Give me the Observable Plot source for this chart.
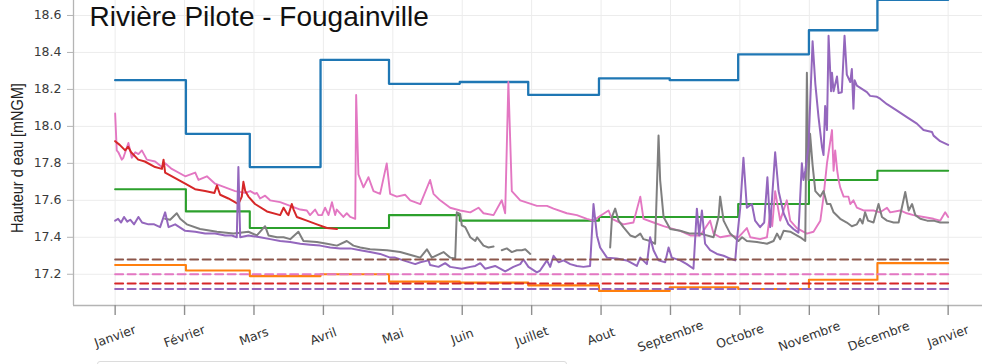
<!DOCTYPE html>
<html lang="fr">
<head>
<meta charset="utf-8">
<script src="https://cdn.jsdelivr.net/npm/d3@7"></script>
<script src="https://cdn.jsdelivr.net/npm/@observablehq/plot@0.6"></script>
<style>
  html, body { margin: 0; padding: 0; background: #fff; overflow: hidden; }
  #chart svg { display: block; }
  .legend-box { margin: 3px 0 0 97px; width: 468px; height: 30px; border: 1px solid #dcdcdc; border-radius: 3px; background: #fff; }
</style>
</head>
<body>
<div id="chart"></div>
<div class="legend-box"></div>
<script>
// Month labels and their positions (day of year, twelve equal intervals)
const monthNames = ["Janvier", "Février", "Mars", "Avril", "Mai", "Juin", "Juillet", "Aout", "Septembre", "Octobre", "Novembre", "Décembre", "Janvier"];
const monthTicks = d3.range(13).map(i => i * 365 / 12);
// First day of each calendar month (day of year), plus the end of the year
const monthStarts = [0, 31, 59, 90, 120, 151, 181, 212, 243, 273, 304, 334, 365];
const yTicks = [17.2, 17.4, 17.6, 17.8, 18.0, 18.2, 18.4, 18.6];

// Monthly step levels [mNGM]
const blueLevels   = [18.25, 17.96, 17.78, 18.36, 18.23, 18.24, 18.17, 18.26, 18.25, 18.39, 18.52, 18.685];
const greenLevels  = [17.66, 17.54, 17.45, 17.45, 17.52, 17.49, 17.49, 17.51, 17.51, 17.58, 17.71, 17.76];
const orangeLevels = [17.25, 17.22, 17.19, 17.20, 17.16, 17.155, 17.14, 17.11, 17.13, 17.12, 17.17, 17.26];

// Constant reference levels (dashed)
const refBrown = 17.28;
const refPink = 17.20;
const refRed = 17.15;
const refPurple = 17.12;

// Observed water levels: [day of year, level]
const redSeries = [[0,17.92],[2,17.90],[4.4,17.87],[5.7,17.89],[7,17.86],[10.1,17.82],[13,17.81],[17.5,17.78],[20.5,17.77],[21.2,17.82],[21.9,17.75],[26.3,17.72],[30.7,17.69],[35,17.66],[39.4,17.65],[43.5,17.64],[44.6,17.68],[46,17.63],[49.6,17.61],[54,17.58],[55.5,17.62],[56.2,17.70],[57,17.65],[58.4,17.62],[61.3,17.58],[66.5,17.54],[72.3,17.52],[73.8,17.56],[75.2,17.53],[75.9,17.52],[77.4,17.58],[78.2,17.55],[79.6,17.51],[84,17.49],[88.4,17.47],[92.8,17.45],[97.2,17.445]];

const pinkSeries = [[0,18.07],[0.7,17.87],[1.4,17.86],[2.9,17.82],[3.6,17.83],[5.8,17.91],[7.3,17.83],[8.8,17.86],[10.2,17.85],[11.7,17.87],[13.9,17.82],[17.5,17.81],[20.5,17.78],[21.9,17.80],[24.8,17.77],[30.7,17.73],[35.1,17.75],[36.5,17.71],[40.2,17.73],[43.8,17.69],[48.2,17.67],[52.6,17.65],[57,17.64],[59.2,17.65],[61.3,17.635],[62.1,17.64],[63.5,17.61],[65.7,17.625],[67.9,17.60],[72.3,17.59],[76.7,17.57],[81.1,17.55],[84,17.545],[85.4,17.52],[87.6,17.55],[89,17.52],[90.6,17.52],[92,17.56],[93.5,17.52],[95,17.59],[96.4,17.52],[97.1,17.55],[100,17.51],[101.5,17.53],[103,17.51],[105.2,17.50],[105.6,18.17],[106.6,17.74],[108.8,17.67],[111,17.725],[113.2,17.65],[116.1,17.635],[119,17.80],[120.5,17.635],[123.4,17.62],[127.1,17.63],[129.3,17.60],[133.7,17.58],[138,17.71],[139.5,17.635],[142.4,17.60],[146.8,17.56],[151.2,17.545],[155.6,17.535],[159.2,17.56],[161.4,17.53],[165.8,17.52],[169.4,17.60],[170.9,17.53],[172.3,18.24],[173.8,17.65],[177.5,17.60],[184.8,17.57],[189.2,17.57],[192.1,17.555],[197.9,17.53],[202.3,17.52],[206.7,17.50],[209.6,17.49],[211.8,17.51],[216.2,17.545],[217.7,17.50],[222.7,17.47],[227.1,17.48],[230.1,17.62],[231.5,17.50],[235.9,17.48],[240.3,17.46],[243.2,17.45],[247.6,17.435],[252,17.41],[256.4,17.41],[260.7,17.49],[262.2,17.42],[265.1,17.40],[269.5,17.41],[273.1,17.40],[276.8,17.45],[278.3,17.40],[282.6,17.39],[285.6,17.40],[287,17.53],[287.9,17.46],[289.2,17.65],[291.4,17.49],[294.3,17.60],[295.8,17.49],[298.7,17.45],[303.1,17.42],[306,17.43],[309,17.49],[310.4,17.62],[311.9,17.80],[314.1,17.98],[314.8,17.76],[315.5,17.87],[316.4,17.76],[317,17.71],[317.7,17.67],[319.2,17.62],[321.3,17.62],[322.1,17.58],[323.5,17.60],[325,17.56],[327.9,17.545],[332.3,17.545],[335.2,17.535],[338.2,17.56],[339.6,17.535],[344,17.545],[346.9,17.53],[349.8,17.52],[354.2,17.51],[358.6,17.50],[361.5,17.49],[363.7,17.535],[365,17.51]];

const purpleSeries = [[0,17.49],[1.3,17.50],[2.6,17.48],[3.9,17.51],[5.3,17.485],[6.6,17.495],[8.3,17.47],[10.2,17.51],[11.8,17.48],[14.6,17.47],[17.1,17.47],[19.7,17.455],[21.9,17.535],[23.4,17.455],[26.3,17.47],[30.7,17.435],[35.1,17.43],[39.4,17.42],[43.8,17.42],[48.2,17.41],[51.1,17.41],[53.3,17.40],[54,17.78],[54.8,17.40],[58.4,17.41],[63.5,17.40],[67.9,17.39],[72.3,17.38],[76.7,17.375],[81.1,17.365],[85.4,17.36],[89.8,17.355],[94.2,17.345],[98.6,17.34],[103,17.34],[107.4,17.33],[111.7,17.32],[116.1,17.31],[120.5,17.29],[122.7,17.29],[126.3,17.275],[131.5,17.255],[133.7,17.265],[137.3,17.275],[138,17.25],[141.7,17.24],[144.6,17.26],[146.8,17.24],[151.9,17.23],[155.6,17.24],[157.8,17.245],[160,17.26],[162.1,17.23],[166.5,17.245],[170.9,17.215],[174.5,17.24],[177.5,17.255],[178.9,17.28],[181.1,17.24],[184.8,17.21],[186.2,17.22],[189.2,17.275],[190.6,17.24],[192.1,17.30],[194.3,17.265],[196.5,17.275],[199.4,17.255],[202.3,17.245],[205.2,17.24],[208.1,17.245],[209.6,17.58],[211.1,17.41],[212.5,17.345],[215.5,17.29],[219.8,17.285],[224.2,17.275],[228.6,17.245],[230.1,17.29],[233,17.255],[234.4,17.40],[235.9,17.33],[238.1,17.275],[241,17.265],[242.5,17.345],[243.9,17.29],[247.6,17.275],[250.5,17.255],[253.4,17.23],[254.9,17.555],[255.9,17.41],[257.1,17.545],[258.5,17.365],[260.7,17.33],[263.7,17.31],[266.6,17.30],[269.5,17.285],[271.7,17.275],[272.4,17.38],[273.9,17.56],[275.3,17.83],[276.8,17.56],[279,17.58],[280.4,17.49],[282.6,17.455],[284.4,17.48],[285.8,17.725],[287,17.455],[289.2,17.86],[290.7,17.65],[292.9,17.53],[295,17.47],[297.2,17.445],[299.4,17.425],[300.9,17.80],[301.6,17.71],[302.4,17.76],[303.8,17.89],[305.6,18.46],[306.8,18.23],[308.2,18.05],[309.7,17.89],[310.4,17.845],[311.1,18.11],[311.9,17.98],[312.6,18.49],[313.7,18.19],[314.1,18.29],[314.8,18.19],[316.3,18.27],[317,18.18],[318.4,18.185],[319.6,18.49],[320.6,18.28],[322.1,18.24],[322.8,18.31],[323.5,18.095],[324,18.25],[325,18.22],[329.4,18.185],[330.8,18.165],[333.8,18.16],[335.2,18.15],[338.2,18.12],[342.6,18.085],[346.9,18.05],[351.3,18.015],[354.2,17.98],[357.9,17.97],[358.6,17.95],[361.5,17.92],[365,17.90]];

// null marks a gap in the record
const greySeries = [[21.9,17.50],[24.1,17.495],[27,17.53],[28.5,17.50],[31.4,17.47],[37.2,17.445],[44.6,17.43],[51.8,17.42],[54.8,17.425],[58.4,17.43],[62.1,17.41],[65.7,17.46],[67.2,17.41],[70.9,17.40],[73.8,17.40],[76.7,17.39],[80.3,17.43],[82.5,17.38],[88.4,17.375],[92.8,17.365],[97.2,17.355],[101.5,17.38],[104.4,17.355],[107.4,17.345],[111.7,17.335],[119.1,17.33],[124.9,17.32],[130.7,17.30],[133.7,17.29],[136.6,17.335],[138.8,17.29],[143.9,17.32],[146.8,17.29],[149,17.285],[149.7,17.535],[151.2,17.525],[151.9,17.465],[153.4,17.455],[155.6,17.40],[157.8,17.38],[158.6,17.40],[161.4,17.355],[163.6,17.345],[165.8,17.35],[167.5,null],[169.4,17.33],[171.6,17.34],[173.8,17.32],[176,17.33],[178.2,17.33],[179.7,17.335],[181.9,17.31],[200,null],[216.9,17.345],[217.7,17.51],[219.1,17.555],[220.6,17.49],[222.7,17.455],[225.7,17.41],[227.9,17.40],[230.1,17.42],[231.5,17.39],[234.4,17.38],[236.6,17.365],[238.1,17.95],[238.8,17.71],[240.3,17.51],[243.2,17.445],[247.6,17.435],[250.5,17.425],[252,17.42],[256.4,17.42],[262.2,17.40],[264.4,17.51],[265.1,17.62],[266.6,17.49],[269.5,17.42],[273.1,17.38],[274.7,17.40],[276.8,17.38],[281.2,17.375],[285.6,17.365],[288.5,17.38],[290,17.42],[291.4,17.39],[292.9,17.435],[295.8,17.43],[300.2,17.40],[302.4,17.38],[303.1,18.29],[303.8,17.71],[304.5,17.96],[305.6,17.79],[306.8,17.65],[309,17.62],[310.4,17.65],[311.9,17.58],[313.4,17.58],[314.8,17.535],[317.7,17.50],[320.6,17.48],[322.8,17.46],[325,17.47],[326.4,17.50],[327.5,17.475],[328.6,17.535],[329.9,17.49],[332.3,17.48],[334.5,17.58],[336,17.51],[338.2,17.49],[341.1,17.48],[343.3,17.48],[346.2,17.645],[347.7,17.545],[349.2,17.58],[350.6,17.52],[352.8,17.50],[355.8,17.49],[358.6,17.49],[361.5,17.48],[365,17.48]];

// Step tables: each month's level starts on the 1st and holds until the next month
const stepTable = levels => monthStarts.map((d, i) => ({day: d, level: levels[Math.min(i, levels.length - 1)]}));
const asPoints = rows => rows.map(([day, level]) => ({day, level}));

const xDomain = [-18.25, 383.25];
const yDomain = [17.031, 18.681];
const yLabel = "Hauteur d eau [mNGM]";

const refLine = (value, color) => Plot.line([{day: 0, level: value}, {day: 365, level: value}], {
  x: "day", y: "level", stroke: color, strokeWidth: 2, strokeDasharray: "8,4.5"
});

const chart = Plot.plot({
  width: 982,
  height: 358,
  marginLeft: 73,
  marginRight: 0,
  marginTop: 0,
  marginBottom: 53,
  style: {fontFamily: "DejaVu Sans", fontSize: "12px", background: "#fff", overflow: "hidden"},
  x: {domain: xDomain, range: [73, 989.3]},
  y: {domain: yDomain, range: [305, 0]},
  marks: [
    Plot.gridX({ticks: monthTicks, stroke: "#ececec", strokeOpacity: 1, strokeWidth: 1}),
    Plot.gridY({ticks: yTicks, stroke: "#ececec", strokeOpacity: 1, strokeWidth: 1}),
    Plot.ruleX([xDomain[0]], {stroke: "#b4b4b4", strokeWidth: 1.3}),
    Plot.ruleY([yDomain[0]], {stroke: "#b4b4b4", strokeWidth: 1.3}),
    Plot.axisX({ticks: monthTicks, tickSize: 10, tickFormat: () => "", stroke: "#8f8f8f", strokeWidth: 1.4, label: null}),
    Plot.axisY({ticks: yTicks, tickSize: 6, tickPadding: 6, tickFormat: d3.format(".1f"), stroke: "#b4b4b4", fill: "#3a3a3a", fontSize: 12.5, label: null}),
    Plot.text(monthNames, {x: (d, i) => monthTicks[i], text: d => d, frameAnchor: "bottom", dy: 31, rotate: -20, textAnchor: "middle", lineAnchor: "middle", fill: "#333", fontSize: 12.5}),
    Plot.text([yLabel], {frameAnchor: "left", dx: -56, dy: 5, rotate: -90, textAnchor: "middle", lineAnchor: "middle", fontFamily: "Liberation Sans", fontSize: 14.5, fill: "#222"}),
    Plot.text(["Rivière Pilote - Fougainville"], {frameAnchor: "top-left", dx: 16, dy: 6, textAnchor: "start", lineAnchor: "top", fontFamily: "Liberation Sans", fontSize: 28, fill: "#111"}),
    Plot.line(stepTable(blueLevels), {x: "day", y: "level", curve: "step-after", stroke: "#1f77b4", strokeWidth: 2.3}),
    Plot.line(stepTable(greenLevels), {x: "day", y: "level", curve: "step-after", stroke: "#2ca02c", strokeWidth: 2.1}),
    Plot.line(stepTable(orangeLevels), {x: "day", y: "level", curve: "step-after", stroke: "#ff7f0e", strokeWidth: 2.1}),
    Plot.line(asPoints(pinkSeries), {x: "day", y: "level", stroke: "#e377c2", strokeWidth: 1.9}),
    Plot.line(asPoints(redSeries), {x: "day", y: "level", stroke: "#d62728", strokeWidth: 2}),
    Plot.line(asPoints(greySeries), {x: "day", y: "level", stroke: "#7f7f7f", strokeWidth: 2}),
    Plot.line(asPoints(purpleSeries), {x: "day", y: "level", stroke: "#9467bd", strokeWidth: 2}),
    refLine(refBrown, "#8c564b"),
    refLine(refPink, "#e377c2"),
    refLine(refRed, "#d62728"),
    refLine(refPurple, "#9467bd")
  ]
});

// The axis title is drawn a little wider across its glyphs
for (const t of chart.querySelectorAll("text")) {
  if (t.textContent === yLabel) {
    t.setAttribute("transform", (t.getAttribute("transform") || "") + " scale(1,1.2)");
  }
}

document.getElementById("chart").append(chart);
</script>
</body>
</html>
